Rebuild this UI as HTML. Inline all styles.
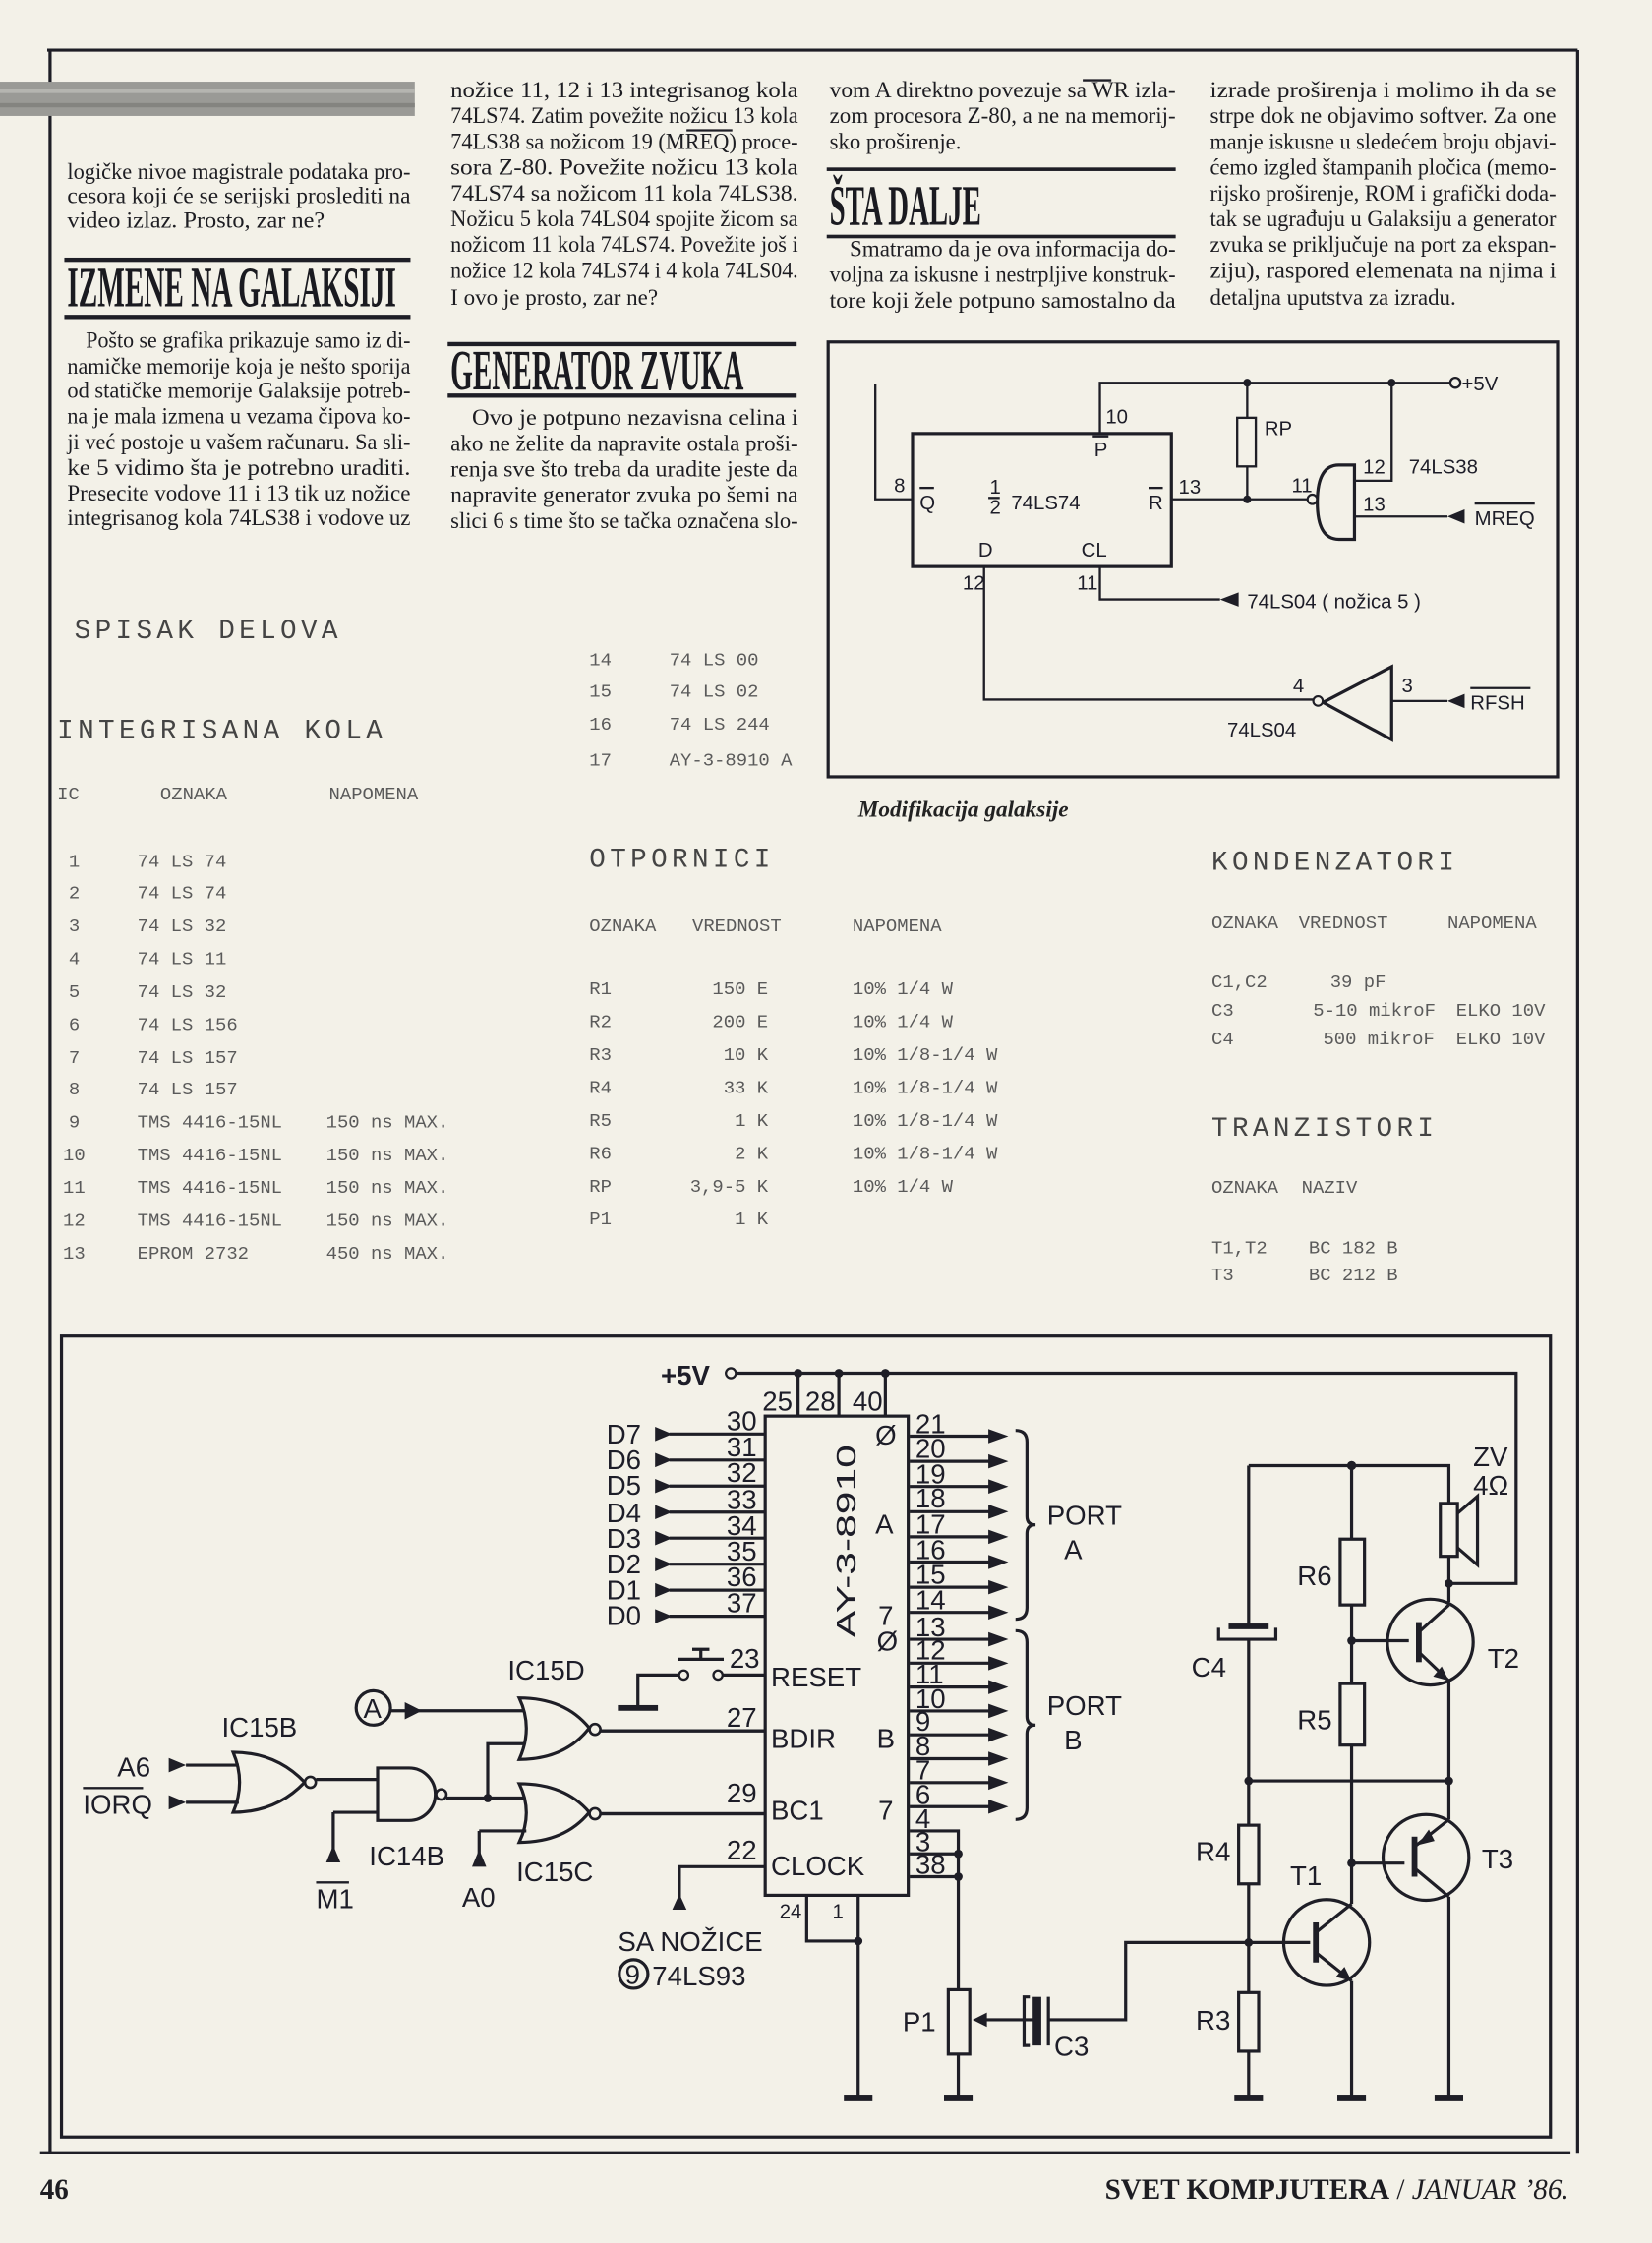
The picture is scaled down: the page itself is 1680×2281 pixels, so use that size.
<!DOCTYPE html>
<html><head><meta charset="utf-8">
<style>
html,body{margin:0;padding:0;background:#f3f1e8;}
svg{display:block;}
.b{font-family:"Liberation Serif",serif;font-size:16px;fill:#1d1d22;}
.h{font-family:"Liberation Serif",serif;font-weight:bold;font-size:40px;fill:#1a1a20;}
.m{font-family:"Liberation Mono",monospace;fill:#5a5a5a;font-size:13px;}
.mh{font-family:"Liberation Mono",monospace;fill:#444;font-size:19px;letter-spacing:3px;}
.s{font-family:"Liberation Sans",sans-serif;fill:#1d1d28;font-size:14px;}
.sb{font-family:"Liberation Sans",sans-serif;fill:#1d1d28;font-size:19px;}
.w{stroke:#1e1e26;stroke-width:1.6;fill:none;}
.w2{stroke:#1e1e26;stroke-width:2.2;fill:none;}
.f{fill:#1e1e26;}
</style></head><body>
<svg width="1680" height="2281" viewBox="0 0 1155 1568" xmlns="http://www.w3.org/2000/svg">
<rect x="0" y="0" width="1155" height="1568" fill="#f3f1e8"/>
<path class="w2" d="M33,35 H1103 M35,35 V1505 M1103,35 V1505 M28,1505 H1098"/>
<rect x="0" y="57" width="290" height="24" fill="#9a9a96"/>
<rect x="0" y="62" width="290" height="3" fill="#b5b5b0"/>
<rect x="0" y="72" width="290" height="3" fill="#848480"/>

<text class="b" x="47" y="125" textLength="240" lengthAdjust="spacingAndGlyphs">logičke nivoe magistrale podataka pro-</text>
<text class="b" x="47" y="142" textLength="240" lengthAdjust="spacingAndGlyphs">cesora koji će se serijski proslediti na</text>
<text class="b" x="47" y="159" textLength="180" lengthAdjust="spacingAndGlyphs">video izlaz. Prosto, zar ne?</text>
<rect x="45" y="180" width="242" height="3" class="f"/>
<text class="h" x="47" y="214" textLength="230" lengthAdjust="spacingAndGlyphs">IZMENE NA GALAKSIJI</text>
<rect x="45" y="220" width="242" height="3" class="f"/>
<text class="b" x="60" y="243" textLength="227" lengthAdjust="spacingAndGlyphs">Pošto se grafika prikazuje samo iz di-</text>
<text class="b" x="47" y="261" textLength="240" lengthAdjust="spacingAndGlyphs">namičke memorije koja je nešto sporija</text>
<text class="b" x="47" y="278" textLength="240" lengthAdjust="spacingAndGlyphs">od statičke memorije Galaksije potreb-</text>
<text class="b" x="47" y="296" textLength="240" lengthAdjust="spacingAndGlyphs">na je mala izmena u vezama čipova ko-</text>
<text class="b" x="47" y="314" textLength="240" lengthAdjust="spacingAndGlyphs">ji već postoje u vašem računaru. Sa sli-</text>
<text class="b" x="47" y="332" textLength="240" lengthAdjust="spacingAndGlyphs">ke 5 vidimo šta je potrebno uraditi.</text>
<text class="b" x="47" y="350" textLength="240" lengthAdjust="spacingAndGlyphs">Presecite vodove 11 i 13 tik uz nožice</text>
<text class="b" x="47" y="367" textLength="240" lengthAdjust="spacingAndGlyphs">integrisanog kola 74LS38 i vodove uz</text>

<text class="b" x="315" y="68" textLength="243" lengthAdjust="spacingAndGlyphs">nožice 11, 12 i 13 integrisanog kola</text>
<text class="b" x="315" y="86" textLength="243" lengthAdjust="spacingAndGlyphs">74LS74. Zatim povežite nožicu 13 kola</text>
<text class="b" x="315" y="104" textLength="243" lengthAdjust="spacingAndGlyphs">74LS38 sa nožicom 19 (MREQ) proce-</text>
<path class="w" d="M480,91 H512"/>
<text class="b" x="315" y="122" textLength="243" lengthAdjust="spacingAndGlyphs">sora Z-80. Povežite nožicu 13 kola</text>
<text class="b" x="315" y="140" textLength="243" lengthAdjust="spacingAndGlyphs">74LS74 sa nožicom 11 kola 74LS38.</text>
<text class="b" x="315" y="158" textLength="243" lengthAdjust="spacingAndGlyphs">Nožicu 5 kola 74LS04 spojite žicom sa</text>
<text class="b" x="315" y="176" textLength="243" lengthAdjust="spacingAndGlyphs">nožicom 11 kola 74LS74. Povežite još i</text>
<text class="b" x="315" y="194" textLength="243" lengthAdjust="spacingAndGlyphs">nožice 12 kola 74LS74 i 4 kola 74LS04.</text>
<text class="b" x="315" y="213" textLength="145" lengthAdjust="spacingAndGlyphs">I ovo je prosto, zar ne?</text>
<rect x="313" y="239" width="244" height="3" class="f"/>
<text class="h" x="315" y="272" textLength="205" lengthAdjust="spacingAndGlyphs">GENERATOR ZVUKA</text>
<rect x="313" y="275" width="244" height="3" class="f"/>
<text class="b" x="330" y="297" textLength="228" lengthAdjust="spacingAndGlyphs">Ovo je potpuno nezavisna celina i</text>
<text class="b" x="315" y="315" textLength="243" lengthAdjust="spacingAndGlyphs">ako ne želite da napravite ostala proši-</text>
<text class="b" x="315" y="333" textLength="243" lengthAdjust="spacingAndGlyphs">renja sve što treba da uradite jeste da</text>
<text class="b" x="315" y="351" textLength="243" lengthAdjust="spacingAndGlyphs">napravite generator zvuka po šemi na</text>
<text class="b" x="315" y="369" textLength="243" lengthAdjust="spacingAndGlyphs">slici 6 s time što se tačka označena slo-</text>

<text class="b" x="580" y="68" textLength="242" lengthAdjust="spacingAndGlyphs">vom A direktno povezuje sa WR izla-</text>
<path class="w" d="M757,56 H777"/>
<text class="b" x="580" y="86" textLength="242" lengthAdjust="spacingAndGlyphs">zom procesora Z-80, a ne na memorij-</text>
<text class="b" x="580" y="104" textLength="92" lengthAdjust="spacingAndGlyphs">sko proširenje.</text>
<rect x="578" y="117" width="244" height="2.5" class="f"/>
<text class="h" x="580" y="157" textLength="106" lengthAdjust="spacingAndGlyphs">ŠTA DALJE</text>
<rect x="578" y="164" width="244" height="2.5" class="f"/>
<text class="b" x="594" y="179" textLength="228" lengthAdjust="spacingAndGlyphs">Smatramo da je ova informacija do-</text>
<text class="b" x="580" y="197" textLength="242" lengthAdjust="spacingAndGlyphs">voljna za iskusne i nestrpljive konstruk-</text>
<text class="b" x="580" y="215" textLength="242" lengthAdjust="spacingAndGlyphs">tore koji žele potpuno samostalno da</text>

<text class="b" x="846" y="68" textLength="242" lengthAdjust="spacingAndGlyphs">izrade proširenja i molimo ih da se</text>
<text class="b" x="846" y="86" textLength="242" lengthAdjust="spacingAndGlyphs">strpe dok ne objavimo softver. Za one</text>
<text class="b" x="846" y="104" textLength="242" lengthAdjust="spacingAndGlyphs">manje iskusne u sledećem broju objavi-</text>
<text class="b" x="846" y="122" textLength="242" lengthAdjust="spacingAndGlyphs">ćemo izgled štampanih pločica (memo-</text>
<text class="b" x="846" y="140" textLength="242" lengthAdjust="spacingAndGlyphs">rijsko proširenje, ROM i grafički doda-</text>
<text class="b" x="846" y="158" textLength="242" lengthAdjust="spacingAndGlyphs">tak se ugrađuju u Galaksiju a generator</text>
<text class="b" x="846" y="176" textLength="242" lengthAdjust="spacingAndGlyphs">zvuka se priključuje na port za ekspan-</text>
<text class="b" x="846" y="194" textLength="242" lengthAdjust="spacingAndGlyphs">ziju), raspored elemenata na njima i</text>
<text class="b" x="846" y="213" textLength="172" lengthAdjust="spacingAndGlyphs">detaljna uputstva za izradu.</text>

<!-- top schematic -->
<rect x="579" y="239" width="510" height="304" class="w2"/>
<rect x="638" y="303" width="181" height="93" class="w2"/>
<path class="w" d="M769,303 V267.5 H1014 M872,267.5 V292 M872,326 V349 M819,349 H914 M973,267.5 V336 H947 M947,361 H1012 M612,268 V349 H638 M688,396 V489 H918 M769,396 V419 H853 M973,490 H1012"/>
<rect x="865" y="292" width="13" height="34" class="w"/>
<text class="s" x="884" y="304">RP</text>
<circle cx="872" cy="267.5" r="2.8" class="f"/><circle cx="973" cy="267.5" r="2.8" class="f"/><circle cx="872" cy="349" r="2.8" class="f"/>
<circle cx="1017.5" cy="267.5" r="3.5" fill="#f3f1e8" stroke="#1e1e26" stroke-width="1.6"/>
<text class="s" x="1022" y="273">+5V</text>
<path class="w2" d="M947,325 H936 Q921,325 921,351 Q921,377 936,377 H947 Z"/>
<circle cx="917.5" cy="349" r="3.3" fill="#f3f1e8" stroke="#1e1e26" stroke-width="1.5"/>
<path class="w2" d="M973,466 L925,491 L973,517 Z"/>
<circle cx="921.5" cy="490" r="3.3" fill="#f3f1e8" stroke="#1e1e26" stroke-width="1.5"/>
<polygon class="f" points="1012,361 1024,356 1024,366"/>
<polygon class="f" points="1012,490 1024,485 1024,495"/>
<polygon class="f" points="853,419 866,414 866,424"/>
<text class="s" x="1031" y="367">MREQ</text><path class="w" d="M1031,352 H1073"/>
<text class="s" x="1028" y="496">RFSH</text><path class="w" d="M1028,481 H1070"/>
<text class="s" x="872" y="425">74LS04  ( nožica 5 )</text>
<text class="s" x="773" y="296">10</text>
<text class="s" x="765" y="319">P</text><path class="w" d="M764,305 H775"/>
<text class="s" x="824" y="345">13</text>
<text class="s" x="903" y="344">11</text>
<text class="s" x="953" y="331">12</text>
<text class="s" x="985" y="331">74LS38</text>
<text class="s" x="953" y="357">13</text>
<text class="s" x="625" y="344">8</text>
<text class="s" x="643" y="356">Q</text><path class="w" d="M643,341 H653"/>
<text class="s" x="692" y="345" font-size="11">1</text><path class="w" d="M691,348 H699"/><text class="s" x="692" y="359" font-size="11">2</text>
<text class="s" x="707" y="356">74LS74</text>
<text class="s" x="803" y="356">R</text><path class="w" d="M803,341 H813"/>
<text class="s" x="684" y="389">D</text>
<text class="s" x="756" y="389">CL</text>
<text class="s" x="673" y="412">12</text>
<text class="s" x="753" y="412">11</text>
<text class="s" x="904" y="484">4</text>
<text class="s" x="980" y="484">3</text>
<text class="s" x="858" y="515">74LS04</text>
<text x="600" y="571" font-family="Liberation Serif,serif" font-style="italic" font-weight="bold" font-size="16" fill="#222">Modifikacija galaksije</text>

<!-- parts list -->
<text class="mh" x="52" y="446">SPISAK DELOVA</text>
<text class="mh" x="40" y="516">INTEGRISANA KOLA</text>
<text class="m" x="40" y="559">IC</text><text class="m" x="112" y="559">OZNAKA</text><text class="m" x="230" y="559">NAPOMENA</text>
<g class="m">
<text x="48" y="606">1</text><text x="96" y="606">74 LS 74</text>
<text x="48" y="628">2</text><text x="96" y="628">74 LS 74</text>
<text x="48" y="651">3</text><text x="96" y="651">74 LS 32</text>
<text x="48" y="674">4</text><text x="96" y="674">74 LS 11</text>
<text x="48" y="697">5</text><text x="96" y="697">74 LS 32</text>
<text x="48" y="720">6</text><text x="96" y="720">74 LS 156</text>
<text x="48" y="743">7</text><text x="96" y="743">74 LS 157</text>
<text x="48" y="765">8</text><text x="96" y="765">74 LS 157</text>
<text x="48" y="788">9</text><text x="96" y="788">TMS 4416-15NL</text><text x="228" y="788">150 ns MAX.</text>
<text x="44" y="811">10</text><text x="96" y="811">TMS 4416-15NL</text><text x="228" y="811">150 ns MAX.</text>
<text x="44" y="834">11</text><text x="96" y="834">TMS 4416-15NL</text><text x="228" y="834">150 ns MAX.</text>
<text x="44" y="857">12</text><text x="96" y="857">TMS 4416-15NL</text><text x="228" y="857">150 ns MAX.</text>
<text x="44" y="880">13</text><text x="96" y="880">EPROM 2732</text><text x="228" y="880">450 ns MAX.</text>
<text x="412" y="465">14</text><text x="468" y="465">74 LS 00</text>
<text x="412" y="487">15</text><text x="468" y="487">74 LS 02</text>
<text x="412" y="510">16</text><text x="468" y="510">74 LS 244</text>
<text x="412" y="535">17</text><text x="468" y="535">AY-3-8910 A</text>
</g>
<text class="mh" x="412" y="606">OTPORNICI</text>
<g class="m">
<text x="412" y="651">OZNAKA</text><text x="484" y="651">VREDNOST</text><text x="596" y="651">NAPOMENA</text>
<text x="412" y="695">R1</text><text x="537" y="695" text-anchor="end">150 E</text><text x="596" y="695">10%     1/4 W</text>
<text x="412" y="718">R2</text><text x="537" y="718" text-anchor="end">200 E</text><text x="596" y="718">10%     1/4 W</text>
<text x="412" y="741">R3</text><text x="537" y="741" text-anchor="end">10 K</text><text x="596" y="741">10% 1/8-1/4 W</text>
<text x="412" y="764">R4</text><text x="537" y="764" text-anchor="end">33 K</text><text x="596" y="764">10% 1/8-1/4 W</text>
<text x="412" y="787">R5</text><text x="537" y="787" text-anchor="end">1 K</text><text x="596" y="787">10% 1/8-1/4 W</text>
<text x="412" y="810">R6</text><text x="537" y="810" text-anchor="end">2 K</text><text x="596" y="810">10% 1/8-1/4 W</text>
<text x="412" y="833">RP</text><text x="537" y="833" text-anchor="end">3,9-5 K</text><text x="596" y="833">10%     1/4 W</text>
<text x="412" y="856">P1</text><text x="537" y="856" text-anchor="end">1 K</text>
</g>
<text class="mh" x="847" y="608">KONDENZATORI</text>
<g class="m" font-size="12">
<text x="847" y="649">OZNAKA</text><text x="908" y="649">VREDNOST</text><text x="1012" y="649">NAPOMENA</text>
<text x="847" y="690">C1,C2</text><text x="930" y="690">39 pF</text>
<text x="847" y="710">C3</text><text x="918" y="710">5-10 mikroF</text><text x="1018" y="710">ELKO 10V</text>
<text x="847" y="730">C4</text><text x="925" y="730">500 mikroF</text><text x="1018" y="730">ELKO 10V</text>
</g>
<text class="mh" x="847" y="794">TRANZISTORI</text>
<g class="m" font-size="12">
<text x="847" y="834">OZNAKA</text><text x="910" y="834">NAZIV</text>
<text x="847" y="876">T1,T2</text><text x="915" y="876">BC 182 B</text>
<text x="847" y="895">T3</text><text x="915" y="895">BC 212 B</text>
</g>

<!-- bottom schematic -->
<rect x="43" y="934" width="1041" height="560" class="w2"/>
<rect x="535" y="990" width="100" height="335" class="w2"/>
<text class="sb" x="462" y="968" font-weight="bold">+5V</text>
<circle cx="511" cy="960" r="3.5" fill="#f3f1e8" stroke="#1e1e26" stroke-width="1.6"/>
<path class="w2" d="M515,960 H1060 V1107 H1013 M558,960 V990 M586.5,960 V990 M619,960 V990"/>
<circle cx="558" cy="960" r="3" class="f"/><circle cx="586.5" cy="960" r="3" class="f"/><circle cx="619" cy="960" r="3" class="f"/>
<text class="sb" x="533" y="986" font-size="15">25</text><text class="sb" x="563" y="986" font-size="15">28</text><text class="sb" x="596" y="986" font-size="15">40</text>
<g class="sb">
<text x="424" y="1009">D7</text><text x="424" y="1027">D6</text><text x="424" y="1045">D5</text><text x="424" y="1064">D4</text>
<text x="424" y="1082">D3</text><text x="424" y="1100">D2</text><text x="424" y="1118">D1</text><text x="424" y="1136">D0</text>
</g>
<path class="w2" d="M468,1002.5 H535 M468,1020.7 H535 M468,1038.9 H535 M468,1057.1 H535 M468,1075.3 H535 M468,1093.5 H535 M468,1111.7 H535 M468,1129.9 H535"/>
<g class="f">
<polygon points="458,997.5 470,1002.5 458,1007.5"/><polygon points="458,1015.7 470,1020.7 458,1025.7"/>
<polygon points="458,1033.9 470,1038.9 458,1043.9"/><polygon points="458,1052.1 470,1057.1 458,1062.1"/>
<polygon points="458,1070.3 470,1075.3 458,1080.3"/><polygon points="458,1088.5 470,1093.5 458,1098.5"/>
<polygon points="458,1106.7 470,1111.7 458,1116.7"/><polygon points="458,1124.9 470,1129.9 458,1134.9"/>
</g>
<g class="sb" font-size="14">
<text x="508" y="1000">30</text><text x="508" y="1018">31</text><text x="508" y="1036">32</text><text x="508" y="1055">33</text>
<text x="508" y="1073">34</text><text x="508" y="1091">35</text><text x="508" y="1109">36</text><text x="508" y="1127">37</text>
</g>
<text class="sb" x="0" y="0" font-size="34" textLength="135" lengthAdjust="spacingAndGlyphs" transform="translate(598,1145) rotate(-90)">AY-3-8910</text>
<g class="sb">
<text x="612" y="1010">Ø</text><text x="612" y="1072">A</text><text x="614" y="1136">7</text><text x="613" y="1154">Ø</text>
<text x="613" y="1222">B</text><text x="614" y="1272">7</text>
<text x="539" y="1179">RESET</text><text x="539" y="1222">BDIR</text><text x="539" y="1272">BC1</text><text x="539" y="1311">CLOCK</text>
</g>
<g class="sb" font-size="16">
<text x="510" y="1166">23</text><text x="508" y="1207">27</text><text x="508" y="1260">29</text><text x="508" y="1300">22</text>
<text x="545" y="1341" font-size="14">24</text><text x="582" y="1341" font-size="14">1</text>
</g>
<g class="w2">
<path d="M636,1004 H700 M636,1021.6 H700 M636,1039.2 H700 M636,1056.8 H700 M636,1074.4 H700 M636,1092 H700 M636,1109.6 H700 M636,1127.2 H700"/>
<path d="M636,1146 H700 M636,1162.7 H700 M636,1179.4 H700 M636,1196.1 H700 M636,1212.8 H700 M636,1229.5 H700 M636,1246.2 H700 M636,1263 H700"/>
</g>
<g class="f">
<polygon points="691,999 705,1004 691,1009"/><polygon points="691,1016.6 705,1021.6 691,1026.6"/>
<polygon points="691,1034.2 705,1039.2 691,1044.2"/><polygon points="691,1051.8 705,1056.8 691,1061.8"/>
<polygon points="691,1069.4 705,1074.4 691,1079.4"/><polygon points="691,1087 705,1092 691,1097"/>
<polygon points="691,1104.6 705,1109.6 691,1114.6"/><polygon points="691,1122.2 705,1127.2 691,1132.2"/>
<polygon points="691,1141 705,1146 691,1151"/><polygon points="691,1157.7 705,1162.7 691,1167.7"/>
<polygon points="691,1174.4 705,1179.4 691,1184.4"/><polygon points="691,1191.1 705,1196.1 691,1201.1"/>
<polygon points="691,1207.8 705,1212.8 691,1217.8"/><polygon points="691,1224.5 705,1229.5 691,1234.5"/>
<polygon points="691,1241.2 705,1246.2 691,1251.2"/><polygon points="691,1258 705,1263 691,1268"/>
</g>
<g class="sb" font-size="13" fill="#283060">
<text x="640" y="1002">21</text><text x="640" y="1019">20</text><text x="640" y="1037">19</text><text x="640" y="1054">18</text>
<text x="640" y="1072">17</text><text x="640" y="1090">16</text><text x="640" y="1107">15</text><text x="640" y="1125">14</text>
<text x="640" y="1144">13</text><text x="640" y="1160">12</text><text x="640" y="1177">11</text><text x="640" y="1194">10</text>
<text x="640" y="1210">9</text><text x="640" y="1227">8</text><text x="640" y="1244">7</text><text x="640" y="1261">6</text>
<text x="640" y="1278">4</text><text x="640" y="1294">3</text><text x="640" y="1310">38</text>
</g>
<path class="w2" d="M710,1000 q8,0 8,8 v52 q0,6 6,6 q-6,0 -6,6 v52 q0,8 -8,8 M710,1140 q8,0 8,8 v52 q0,6 6,6 q-6,0 -6,6 v52 q0,8 -8,8"/>
<text class="sb" x="732" y="1066">PORT</text><text class="sb" x="744" y="1090">A</text>
<text class="sb" x="732" y="1199">PORT</text><text class="sb" x="744" y="1223">B</text>
<path class="w2" d="M636,1280 H670 V1391 M636,1296 H670 M636,1312 H670 M670,1436 V1467"/>
<circle cx="670" cy="1296" r="3" class="f"/><circle cx="670" cy="1312" r="3" class="f"/>
<rect x="663" y="1391" width="15" height="45" class="w2"/>
<path class="w2" d="M724,1412 H686 M733,1412 H787 V1358 H916"/>
<polygon class="f" points="680,1412 690,1407 690,1417"/>
<rect x="722" y="1396" width="6" height="34" class="f"/>
<path class="w2" d="M733,1396 V1430 M720,1396 H716 V1430 H720"/>
<text class="sb" x="631" y="1420">P1</text>
<text class="sb" x="737" y="1437">C3</text>
<path class="w2" d="M535,1171 H505 M476,1171 H446 V1193 M535,1210 H418 M535,1268 H418 M535,1305 H475 V1330 M564,1325 V1357 H600 V1467 M600,1325 V1357"/>
<circle cx="502" cy="1171" r="3.2" fill="#f3f1e8" stroke="#1e1e26" stroke-width="1.6"/>
<circle cx="478" cy="1171" r="3.2" fill="#f3f1e8" stroke="#1e1e26" stroke-width="1.6"/>
<path class="w2" d="M474,1160 H506 M490,1160 V1153 M484,1153 H496"/>
<rect x="432" y="1192" width="28" height="4" class="f"/>
<circle cx="600" cy="1357" r="3" class="f"/>
<polygon class="f" points="470,1335 475,1324 480,1335"/>
<text class="sb" x="432" y="1364">SA NOŽICE</text>
<circle cx="443" cy="1380" r="10" class="w2"/><text class="sb" x="437" y="1387" font-size="16">9</text>
<text class="sb" x="456" y="1388">74LS93</text>
<path class="w2" d="M163,1225 Q193,1225 213,1246 Q193,1267 163,1267 Q172,1246 163,1225 Z"/>
<circle cx="217" cy="1246" r="3.8" fill="#f3f1e8" stroke="#1e1e26" stroke-width="1.8"/>
<path class="w2" d="M130,1234 H167 M130,1260 H167 M221,1244 H264 M233,1267 H264 M233,1267 V1300"/>
<polygon class="f" points="118,1229 130,1234 118,1239"/><polygon class="f" points="118,1255 130,1260 118,1265"/>
<polygon class="f" points="228,1302 233,1290 238,1302"/>
<path class="w2" d="M264,1236 H286 A18.3,18.3 0 0 1 286,1272.7 H264 Z"/>
<circle cx="308.5" cy="1254.5" r="3.6" fill="#f3f1e8" stroke="#1e1e26" stroke-width="1.8"/>
<path class="w2" d="M312,1257 H366 M341,1257 V1219 H366 M335,1280 H368 M335,1280 V1303 M273,1196 H366 M416,1210 H535 M416,1268 H535"/>
<circle cx="341" cy="1257" r="3" class="f"/>
<polygon class="f" points="330,1305 335,1293 340,1305"/>
<path class="w2" d="M363,1187 Q395,1187 412,1208 Q395,1230 363,1230 Q373,1208 363,1187 Z"/>
<circle cx="416" cy="1209" r="3.8" fill="#f3f1e8" stroke="#1e1e26" stroke-width="1.8"/>
<path class="w2" d="M363,1247 Q395,1247 412,1267 Q395,1288 363,1288 Q373,1267 363,1247 Z"/>
<circle cx="416" cy="1268" r="3.8" fill="#f3f1e8" stroke="#1e1e26" stroke-width="1.8"/>
<circle cx="261" cy="1194" r="12" class="w2"/><text class="sb" x="254" y="1201" font-size="17">A</text>
<polygon class="f" points="283,1190 295,1196 283,1202"/>
<g class="sb">
<text x="155" y="1214">IC15B</text><text x="355" y="1174">IC15D</text>
<text x="258" y="1304">IC14B</text><text x="361" y="1315">IC15C</text>
<text x="82" y="1242">A6</text><text x="58" y="1268">IORQ</text>
<text x="221" y="1334">M1</text><text x="323" y="1333">A0</text>
</g>
<path class="w" d="M58,1250 H100 M221,1316 H244"/>
<path class="w2" d="M873,1024.6 H1013 V1051 M873,1024.6 V1136 M873,1146 V1276 M873,1317 V1393 M873,1434 V1467 M945,1024.6 V1076 M945,1122 V1177 M945,1220 V1331 M945,1147 H985 M945,1302.5 H982 M873,1245 H1013 M1013,1088 V1120 M1013,1175 V1272 M1013,1326 V1467 M945,1385 V1467"/>
<circle cx="945" cy="1024.6" r="3.2" class="f"/><circle cx="945" cy="1147" r="3" class="f"/><circle cx="945" cy="1302.5" r="3" class="f"/>
<circle cx="873" cy="1245" r="3" class="f"/><circle cx="1013" cy="1245" r="3" class="f"/><circle cx="873" cy="1358" r="3" class="f"/><circle cx="1013" cy="1107" r="3" class="f"/>
<rect x="937" y="1076" width="17" height="46" class="w2"/>
<rect x="937" y="1177" width="17" height="43" class="w2"/>
<rect x="866" y="1276" width="14" height="41" class="w2"/>
<rect x="866" y="1393" width="14" height="41" class="w2"/>
<rect x="859" y="1135" width="28" height="4" class="f"/>
<path class="w2" d="M852,1138 V1146 H892 V1138"/>
<rect x="1007" y="1051" width="12" height="37" class="w2"/>
<path class="w2" d="M1019,1058 L1033,1046 V1094 L1019,1082"/>
<circle cx="1000" cy="1148" r="30" class="w2"/>
<path d="M992,1134 V1162" stroke="#1e1e26" stroke-width="4"/>
<path class="w2" d="M992,1141 L1013,1122 M992,1155 L1013,1175"/>
<polygon class="f" points="1013,1175 1002,1172 1008,1165"/>
<circle cx="997" cy="1298.5" r="30" class="w2"/>
<path d="M989,1284 V1312" stroke="#1e1e26" stroke-width="4"/>
<path class="w2" d="M989,1291 L1013,1272 M989,1306 L1013,1326"/>
<polygon class="f" points="991,1290 999,1279 1003,1287"/>
<circle cx="927.5" cy="1358" r="30" class="w2"/>
<path d="M920,1344 V1372" stroke="#1e1e26" stroke-width="4"/>
<path class="w2" d="M920,1351 L945,1331 M920,1365 L945,1385"/>
<polygon class="f" points="945,1385 934,1382 940,1375"/>
<g class="f">
<rect x="590" y="1465" width="20" height="4"/><rect x="660" y="1465" width="20" height="4"/>
<rect x="863" y="1465" width="20" height="4"/><rect x="935" y="1465" width="20" height="4"/><rect x="1003" y="1465" width="20" height="4"/>
</g>
<g class="sb">
<text x="1030" y="1025">ZV</text><text x="1030" y="1045">4Ω</text>
<text x="907" y="1108">R6</text><text x="907" y="1209">R5</text>
<text x="836" y="1301">R4</text><text x="836" y="1419">R3</text>
<text x="833" y="1172">C4</text>
<text x="902" y="1318">T1</text><text x="1040" y="1166">T2</text><text x="1036" y="1306">T3</text>
</g>

<text x="28" y="1537" font-family="Liberation Serif,serif" font-weight="bold" font-size="20" fill="#1d1d22">46</text>
<text x="1097" y="1537" text-anchor="end" font-family="Liberation Serif,serif" font-size="20" fill="#1d1d22"><tspan font-weight="bold">SVET KOMPJUTERA</tspan> / <tspan font-style="italic">JANUAR ’86.</tspan></text>
</svg>
</body></html>
